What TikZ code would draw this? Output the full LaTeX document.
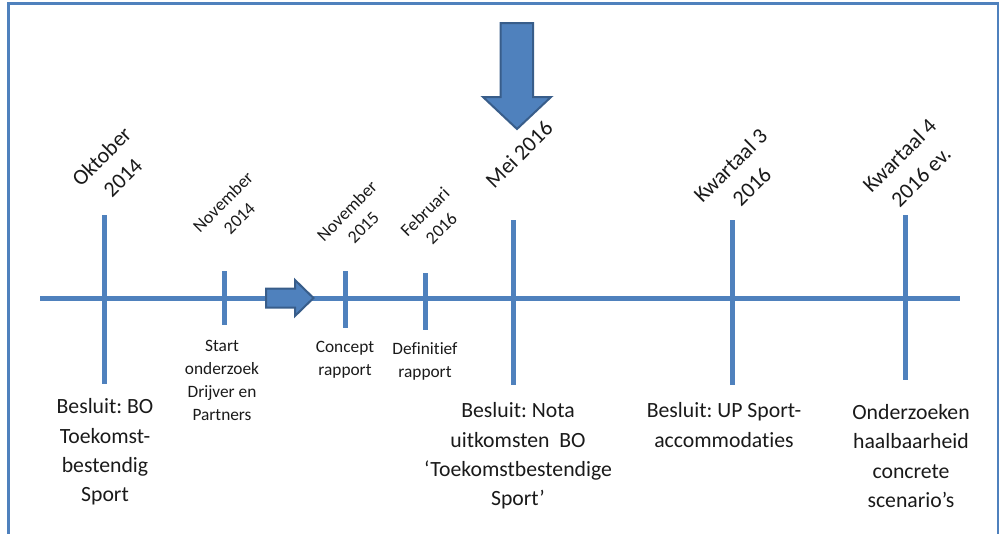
\documentclass[tikz,border=0pt]{standalone}
\usepackage{fontspec}
\setmainfont{Carlito}[Ligatures=NoCommon]
\definecolor{tlblue}{HTML}{4F81BD}
\definecolor{tldark}{HTML}{385D8A}
\definecolor{tltext}{HTML}{1A1A1A}
\frenchspacing
\begin{document}
\begin{tikzpicture}[x=0.75pt,y=-0.75pt,
  frameline/.style={draw=tlblue},
  axisline/.style={draw=tlblue,line width=3.75pt},
  tickline/.style={draw=tlblue,line width=3.75pt},
  bigtxt/.style={font=\fontsize{16.3}{22}\selectfont,align=center,inner sep=0pt,text=tltext},
  smalltxt/.style={font=\fontsize{13}{17.25}\selectfont,align=center,inner sep=0pt,text=tltext},
  rotbig/.style={font=\fontsize{16.5}{22.5}\selectfont,align=center,inner sep=0pt,text=tltext,rotate=45},
  rotsmall/.style={font=\fontsize{13.4}{17.25}\selectfont,align=center,inner sep=0pt,text=tltext,rotate=45},
  blockarrow/.style={fill=tlblue,draw=tldark,line width=1.5pt,line join=miter}]
\useasboundingbox (0,0) rectangle (1000,533);
% frame
\draw[frameline,line width=2.25pt] (8.7,545) -- (8.7,3.8) -- (999,3.8);
\draw[frameline,line width=1.3pt] (998.3,3.8) -- (998.3,545);
% axis
\coordinate (axL) at (40,298);
\coordinate (axR) at (960,298);
\draw[axisline] (axL) -- (axR);
% ticks
\coordinate (t1a) at (104,215); \coordinate (t1b) at (104,384);
\coordinate (t2a) at (224,271); \coordinate (t2b) at (224,325);
\coordinate (t3a) at (345,271); \coordinate (t3b) at (345,328);
\coordinate (t4a) at (425,273); \coordinate (t4b) at (425,330);
\coordinate (t5a) at (513,220); \coordinate (t5b) at (513,385);
\coordinate (t6a) at (732,220); \coordinate (t6b) at (732,385);
\coordinate (t7a) at (905,215); \coordinate (t7b) at (905,380);
\foreach \i in {1,...,7}{\draw[tickline] (t\i a) -- (t\i b);}
% small right arrow
\draw[blockarrow] (266,288.5) -- (295,288.5) -- (295,280) -- (313.5,298) -- (295,316) -- (295,307.5) -- (266,307.5) -- cycle;
% big down arrow
\draw[blockarrow] (500.5,23) -- (533,23) -- (533,97) -- (551,97) -- (517,129) -- (483,97) -- (500.5,97) -- cycle;
% top labels
\node[rotbig] (l1) at (112,167) {Oktober\\2014};
\node[rotsmall] (l2) at (231,210) {November\\2014};
\node[rotsmall] (l3) at (355,219) {November\\2015};
\node[rotsmall] (l4) at (433,220) {Februari\\2016};
\node[rotbig] (l5) at (519,154) {Mei 2016};
\node[rotbig] (l6) at (741,176) {Kwartaal 3\\2016};
\node[rotbig] (l7) at (910,166) {Kwartaal 4\\2016 ev.};
% bottom labels
\node[bigtxt] (b1) at (105,452) {Besluit: BO\\Toekomst-\\bestendig\\Sport};
\node[smalltxt] (b2) at (222,380) {Start\\onderzoek\\Drijver en\\Partners};
\node[smalltxt] (b3) at (345,360) {Concept\\rapport};
\node[smalltxt] (b4) at (425,361) {Definitief\\rapport};
\node[bigtxt] (b5) at (518,456) {Besluit: Nota\\uitkomsten~~BO\\‘Toekomstbestendige\\Sport’};
\node[bigtxt] (b6) at (724,425) {Besluit: UP Sport-\\accommodaties};
\node[bigtxt] (b7) at (911,456) {Onderzoeken\\haalbaarheid\\concrete\\scenario’s};
\end{tikzpicture}
\end{document}
